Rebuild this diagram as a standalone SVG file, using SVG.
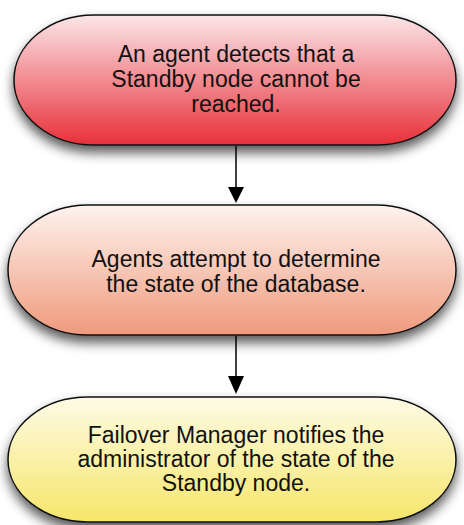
<svg xmlns="http://www.w3.org/2000/svg" width="464" height="525" viewBox="0 0 464 525">
<defs>
<linearGradient id="g1" x1="0" y1="0" x2="0" y2="1"><stop offset="0" stop-color="#fbe6e8"/><stop offset="1" stop-color="#e8303a"/></linearGradient>
<linearGradient id="g2" x1="0" y1="0" x2="0" y2="1"><stop offset="0" stop-color="#fef3ef"/><stop offset="1" stop-color="#ef9a7c"/></linearGradient>
<linearGradient id="g3" x1="0" y1="0" x2="0" y2="1"><stop offset="0" stop-color="#fefbe6"/><stop offset="1" stop-color="#f6e66a"/></linearGradient>
<filter id="sh" x="-10%" y="-10%" width="120%" height="140%"><feDropShadow dx="0" dy="7" stdDeviation="6" flood-color="#000" flood-opacity="0.65"/></filter>
</defs>
<style>
.n{stroke:#111;stroke-width:1.5;filter:url(#sh)}
.t{font-family:"Liberation Sans",Arial,sans-serif;font-size:23px;fill:#111;text-anchor:middle}
.c{stroke:#000;stroke-width:1.5;fill:none}
.a{fill:#000}
</style>
<g id="connectors">
<line class="c" x1="236" y1="146" x2="236" y2="190"/>
<path class="a" d="M228,187 L244,187 L236,203 z"/>
<line class="c" x1="236" y1="336" x2="236" y2="378"/>
<path class="a" d="M228,376 L244,376 L236,394 z"/>
</g>
<g id="node1">
<rect class="n" x="14" y="15" width="442" height="130" rx="80" ry="65" fill="url(#g1)"/>
<text class="t" x="236" y="62">An agent detects that a</text>
<text class="t" x="236" y="87">Standby node cannot be</text>
<text class="t" x="236" y="112">reached.</text>
</g>
<g id="node2">
<rect class="n" x="8" y="205" width="448" height="130" rx="80" ry="65" fill="url(#g2)"/>
<text class="t" x="236" y="267">Agents attempt to determine</text>
<text class="t" x="236" y="292">the state of the database.</text>
</g>
<g id="node3">
<rect class="n" x="8" y="397" width="448" height="125" rx="80" ry="65" fill="url(#g3)"/>
<text class="t" x="236" y="443">Failover Manager notifies the</text>
<text class="t" x="236" y="467">administrator of the state of the</text>
<text class="t" x="236" y="491">Standby node.</text>
</g>
</svg>
